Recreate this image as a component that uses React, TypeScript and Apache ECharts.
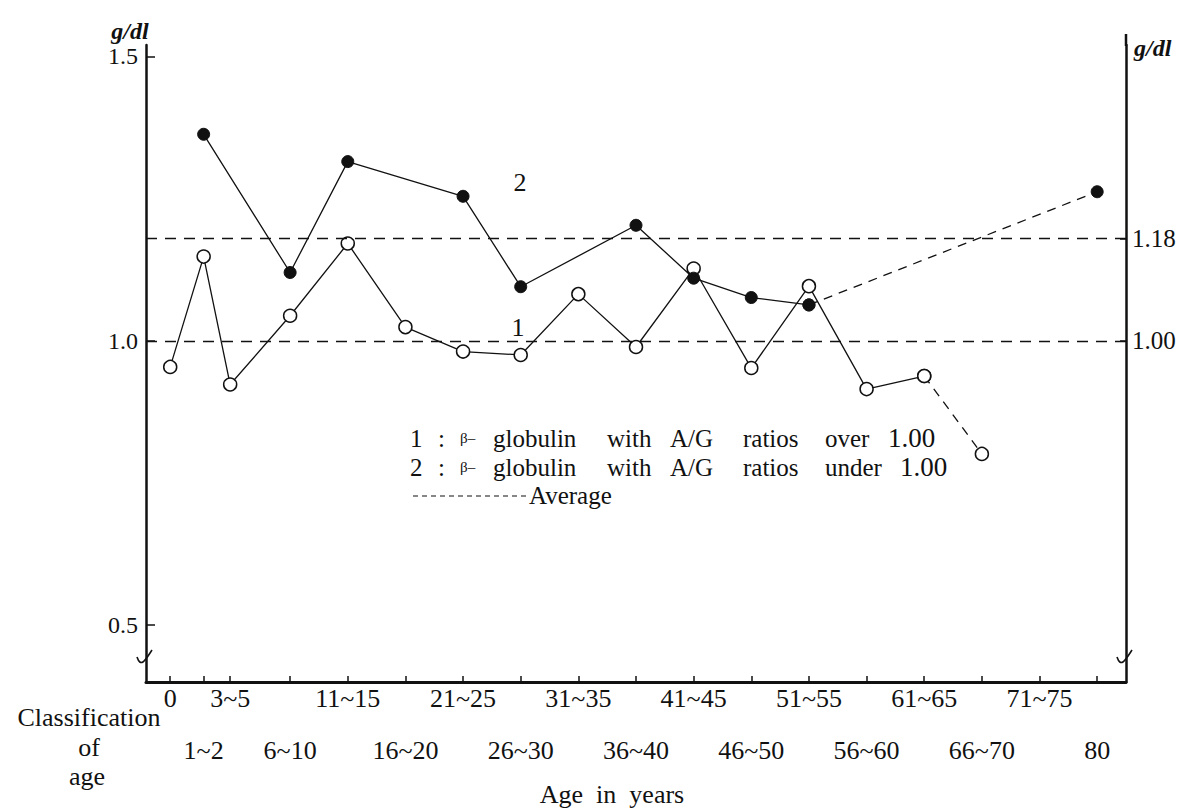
import React, { useEffect, useRef } from "react";
import * as echarts from "echarts";

// ---- data ----
const categories = ["0", "1~2", "3~5", "6~10", "11~15", "16~20", "21~25", "26~30", "31~35", "36~40", "41~45", "46~50", "51~55", "56~60", "61~65", "66~70", "71~75", "80"];
// place of each age class along the x axis (axis units)
const classPos = [0.92, 1.5, 1.96, 3, 4, 5, 6, 7, 8, 9, 10, 11, 12, 13, 14, 15, 16, 17];
// 1 : beta-globulin with A/G ratios over 1.00 (g/dl)
const over100 = [0.954, 1.148, 0.923, 1.044, 1.171, 1.024, 0.981, 0.975, 1.082, 0.989, 1.127, 0.952, 1.096, 0.915, 0.938, 0.801, null, null];
// 2 : beta-globulin with A/G ratios under 1.00 (g/dl)
const under100 = [null, 1.363, null, 1.12, 1.315, null, 1.254, 1.095, null, 1.203, 1.11, 1.076, 1.063, null, null, null, null, 1.262];
// class index from which each curve continues as a dashed extension
const over100DashFrom = 14;
const under100DashFrom = 12;
const averages = [1.18, 1.0];
const yTicks = [0.5, 1.0, 1.5];

const FONT = '"Liberation Serif", "DejaVu Serif", serif';
const INK = "#111";

function pts(arr: (number | null)[], from: number, to: number) {
  const out: [number, number][] = [];
  for (let i = from; i <= to && i < arr.length; i++) {
    const v = arr[i];
    if (v !== null && v !== undefined) out.push([classPos[i], v]);
  }
  return out;
}

function labelFor(v: number) {
  const i = classPos.findIndex((p) => Math.abs(p - v) < 1e-6);
  return i >= 0 ? categories[i] : "";
}

const legendRows: { y: number; words: [string, number, number?][] }[] = [
  { y: 438, words: [["1", 410], [":", 438], ["β–", 460, 15], ["globulin", 493], ["with", 607], ["A/G", 670], ["ratios", 743], ["over", 825], ["1.00", 888, 27]] },
  { y: 467, words: [["2", 410], [":", 438], ["β–", 460, 15], ["globulin", 493], ["with", 607], ["A/G", 670], ["ratios", 743], ["under", 825], ["1.00", 900, 27]] },
];

export default function App() {
  const ref = useRef<HTMLDivElement>(null);
  useEffect(() => {
    document.body.style.margin = "0";
    const chart = echarts.init(ref.current!, null, { renderer: "svg" });
    const evenPos = classPos.filter((_, i) => i % 2 === 0);
    const oddPos = classPos.filter((_, i) => i % 2 === 1);
    const openStyle = { color: "#fff", borderColor: INK, borderWidth: 1.5 };
    const fillStyle = { color: INK, borderColor: INK, borderWidth: 1 };
    const txt = (text: string, x: number, y: number, extra: any = {}) => ({
      type: "text",
      x,
      y,
      style: { text, fill: INK, font: `25px ${FONT}`, textVerticalAlign: "middle", ...extra },
    });
    const graphics: any[] = [];
    legendRows.forEach((row) => {
      row.words.forEach(([w, x, fs]) => {
        graphics.push(txt(w, x, row.y, { font: `${fs || 25}px ${FONT}` }));
      });
    });
    graphics.push({ type: "line", shape: { x1: 413, y1: 496, x2: 527, y2: 496 }, style: { stroke: INK, lineWidth: 1.2, lineDash: [5, 4] } });
    graphics.push(txt("Average", 529, 495));
    graphics.push(txt("2", 520, 182, { textAlign: "center", font: `26px ${FONT}` }));
    graphics.push(txt("1", 518, 327, { textAlign: "center", font: `26px ${FONT}` }));
    graphics.push(txt("g/dl", 130, 31, { textAlign: "center", font: `italic bold 24px ${FONT}` }));
    graphics.push(txt("g/dl", 1134, 48, { textAlign: "left", font: `italic bold 24px ${FONT}` }));
    graphics.push({ type: "line", shape: { x1: 1126, y1: 34, x2: 1126, y2: 46 }, style: { stroke: INK, lineWidth: 2.5 } });
    graphics.push(txt("Classification", 89, 717, { textAlign: "center", font: `26px ${FONT}` }));
    graphics.push(txt("of", 89, 747, { textAlign: "center", font: `26px ${FONT}` }));
    graphics.push(txt("age", 87, 776, { textAlign: "center", font: `26px ${FONT}` }));
    graphics.push(txt("Age  in  years", 612, 794, { textAlign: "center", font: `26px ${FONT}` }));
    [[146, 657], [1126, 657]].forEach(([x, y]) => {
      graphics.push({
        type: "bezierCurve",
        shape: { x1: x - 9, y1: y, x2: x + 6, y2: y - 7, cpx1: x - 5, cpy1: y + 12, cpx2: x, cpy2: y + 2 },
        style: { stroke: INK, lineWidth: 1.6, fill: "none" },
      });
    });

    const axisFont = { fontSize: 26, fontFamily: FONT, color: INK };
    chart.setOption({
      animation: false,
      backgroundColor: "#fff",
      grid: { left: 146, right: 68, top: 45, bottom: 127, containLabel: false },
      xAxis: [
        {
          type: "value",
          min: 0.5,
          max: 17.5,
          position: "bottom",
          axisLine: { show: true, onZero: false, lineStyle: { color: INK, width: 3 } },
          axisTick: { show: true, inside: true, length: 6, customValues: classPos, lineStyle: { color: INK, width: 1.5 } },
          axisLabel: { show: true, customValues: evenPos, formatter: (v: number) => labelFor(v), margin: 3, ...axisFont },
          splitLine: { show: false },
        },
        {
          type: "value",
          min: 0.5,
          max: 17.5,
          position: "bottom",
          offset: 0,
          axisLine: { show: false },
          axisTick: { show: false },
          axisLabel: { show: true, customValues: oddPos, formatter: (v: number) => labelFor(v), margin: 55, ...axisFont },
          splitLine: { show: false },
        },
      ],
      yAxis: [
        {
          type: "value",
          min: 0.4,
          max: 1.52,
          position: "left",
          axisLine: { show: true, onZero: false, lineStyle: { color: INK, width: 2.5 } },
          axisTick: { show: true, inside: true, length: 9, customValues: yTicks, lineStyle: { color: INK, width: 1.5 } },
          axisLabel: { show: true, customValues: yTicks, formatter: (v: number) => v.toFixed(1), margin: 8, fontSize: 24, fontFamily: FONT, color: INK },
          splitLine: { show: false },
        },
        {
          type: "value",
          min: 0.4,
          max: 1.52,
          position: "right",
          axisLine: { show: true, onZero: false, lineStyle: { color: INK, width: 2.5 } },
          axisTick: { show: true, inside: true, length: 6, customValues: averages, lineStyle: { color: INK, width: 1.5 } },
          axisLabel: { show: true, customValues: averages, formatter: (v: number) => v.toFixed(2), margin: 6, fontSize: 25, fontFamily: FONT, color: INK },
          splitLine: { show: false },
        },
      ],
      series: [
        {
          type: "line",
          name: "Average",
          data: [],
          markLine: {
            silent: true,
            symbol: "none",
            label: { show: false },
            lineStyle: { color: INK, width: 1.3, type: [11, 8] },
            data: averages.map((v) => ({ yAxis: v })),
          },
        },
        {
          type: "line",
          name: "1",
          data: pts(over100, 0, over100DashFrom),
          symbol: "circle",
          symbolSize: 13,
          itemStyle: openStyle,
          lineStyle: { color: INK, width: 1.3 },
          z: 3,
        },
        {
          type: "line",
          name: "1 ext",
          data: pts(over100, over100DashFrom, categories.length - 1),
          symbol: "circle",
          symbolSize: 13,
          itemStyle: openStyle,
          lineStyle: { color: INK, width: 1.3, type: [9, 7] },
          z: 2,
        },
        {
          type: "line",
          name: "2",
          data: pts(under100, 0, under100DashFrom),
          symbol: "circle",
          symbolSize: 12,
          itemStyle: fillStyle,
          lineStyle: { color: INK, width: 1.3 },
          z: 5,
        },
        {
          type: "line",
          name: "2 ext",
          data: pts(under100, under100DashFrom, categories.length - 1),
          symbol: "circle",
          symbolSize: 12,
          itemStyle: fillStyle,
          lineStyle: { color: INK, width: 1.3, type: [9, 7] },
          z: 4,
        },
      ],
      graphic: graphics,
    });
    return () => chart.dispose();
  }, []);
  return <div ref={ref} style={{ position: "fixed", left: 0, top: 0, width: 1194, height: 809, background: "#fff" }} />;
}
